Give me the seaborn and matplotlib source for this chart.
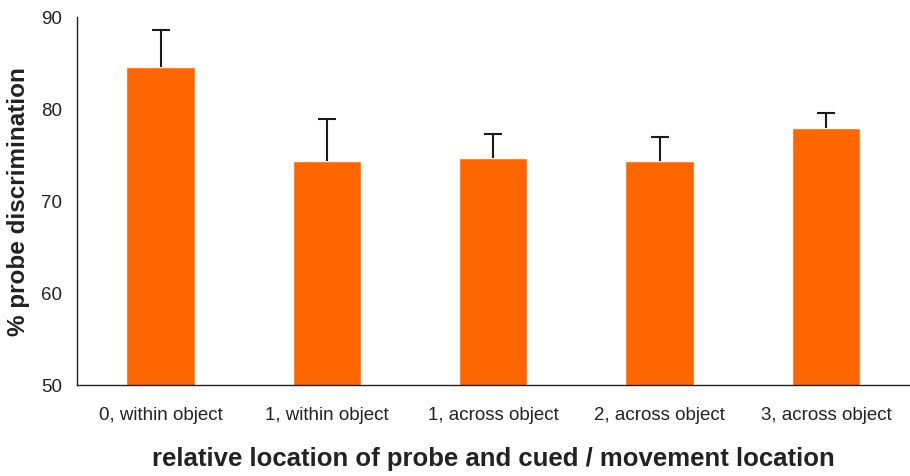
import matplotlib.pyplot as plt
import numpy as np
import pandas as pd
import seaborn as sns

categories = ['0, within object', '1, within object', '1, across object',
              '2, across object', '3, across object']
means = [84.6, 74.4, 74.7, 74.4, 78.0]
upper_err = [4.0, 4.5, 2.6, 2.6, 1.6]

df = pd.DataFrame({'location': categories, 'discrimination': means})

sns.set_style('white')
plt.rcParams['font.family'] = ['Liberation Sans', 'DejaVu Sans']

fig = plt.figure(figsize=(9.1, 4.76), dpi=100)
ax = fig.add_axes([0.085, 0.191, 0.914, 0.773])

sns.barplot(x='location', y='discrimination', data=df, color='#FF6600',
            saturation=1, width=0.41, errorbar=None, ax=ax)

x = np.arange(len(categories))
eb = ax.errorbar(x, means, yerr=[np.zeros(len(means)), upper_err], fmt='none',
                 ecolor='#1a1a1a', elinewidth=1.5, capsize=6.5, capthick=1.5)
eb[1][0].set_visible(False)

ax.set_ylim(50, 90)
ax.set_xlim(-0.5, len(categories) - 0.5)
ax.set_yticks([50, 60, 70, 80, 90])
sns.despine(ax=ax)
for s in ['left', 'bottom']:
    ax.spines[s].set_color('#222222')
    ax.spines[s].set_linewidth(1.0)

ax.set_xticks(x)
ax.set_xticks(np.arange(len(categories) + 1) - 0.5, minor=True)
ax.tick_params(axis='x', which='major', length=0, pad=16, labelsize=13.5)
ax.tick_params(axis='x', which='minor', length=6, width=1, color='#222222', direction='out')
ax.tick_params(axis='y', length=5, width=1, color='#222222', direction='out',
               labelsize=13.5, pad=6)
for lab in ax.get_xticklabels() + ax.get_yticklabels():
    lab.set_color('#222222')

ax.set_xlabel('relative location of probe and cued / movement location',
              fontsize=18.5, fontweight='bold', color='#222222', labelpad=16)
ax.set_ylabel('% probe discrimination', fontsize=17.5, fontweight='bold',
              color='#222222', labelpad=8)

plt.savefig('out.png', dpi=100)
